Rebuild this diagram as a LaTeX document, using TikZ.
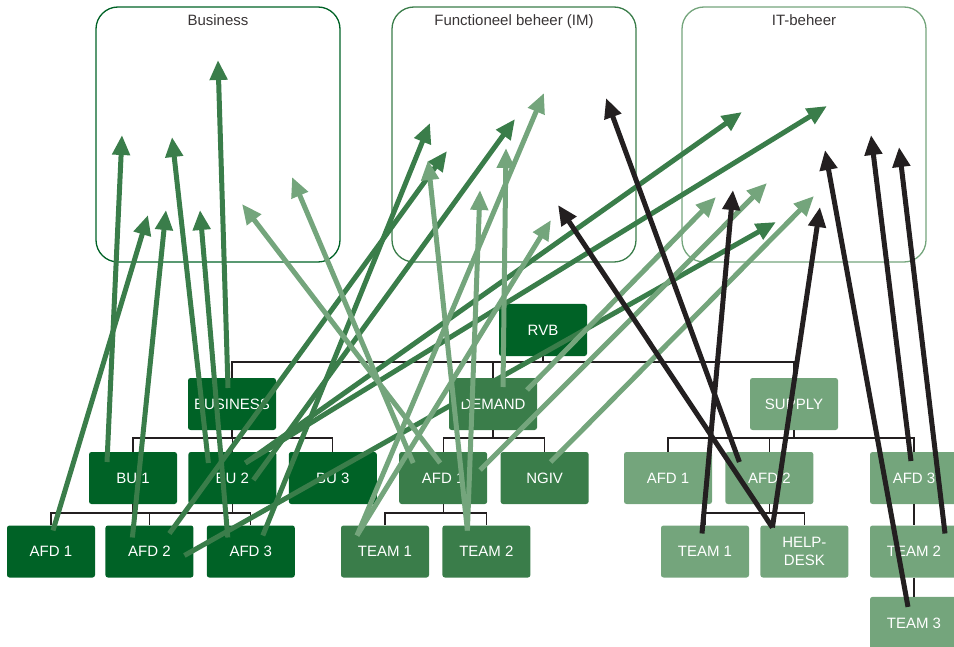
\documentclass[tikz,border=0pt]{standalone}
\usepackage{fontspec}
\setmainfont{Liberation Sans}
\usetikzlibrary{positioning,arrows.meta}
\definecolor{deep}{HTML}{006226}
\definecolor{mid}{HTML}{3A7D4A}
\definecolor{pale}{HTML}{74A57C}
\definecolor{ink}{HTML}{231F20}

\begin{document}
\begin{tikzpicture}[
      x=1pt, y=-1pt,
      font=\fontsize{15}{18}\selectfont,
      box/.style={rounded corners=2.5pt, inner sep=0pt,
                  minimum width=88pt, minimum height=52pt,
                  align=center, text=white},
      top/.style={box, fill=deep},
      dem/.style={box, fill=mid},
      sup/.style={box, fill=pale},
      zone/.style={line width=1.3pt, rounded corners=22pt,
                   minimum width=244pt, minimum height=255pt},
      zonetitle/.style={inner sep=0pt, text=ink!90},
      tree/.style={ink, line width=1.3pt},
      link/.style={line width=5pt, -{Triangle[length=20pt,width=17pt]}},
      biz/.style={link, mid},
      im/.style={link, pale},
      it/.style={link, ink}
    ]
    \useasboundingbox (0,0) rectangle (954,647);
    \clip (0,0) rectangle (954,647);

    % the three management zones
    \node[zone, draw=deep] (fbiz) at (218,134.5) {};
    \node[zone, draw=mid]  (fim)  at (514,134.5) {};
    \node[zone, draw=pale] (fit)  at (804,134.5) {};
    \node[zonetitle, below=8pt of fbiz.north] {Business};
    \node[zonetitle, below=8pt of fim.north]  {Functioneel beheer (IM)};
    \node[zonetitle, below=8pt of fit.north]  {IT-beheer};

    % org chart
    \node[top] (rvb) at (543,330) {RVB};
    \node[top] (business) at (232,404) {BUSINESS};
    \node[dem] (demand)   at (493,404) {DEMAND};
    \node[sup] (supply)   at (794,404) {SUPPLY};

    \node[top] (bu1) at (133,478) {BU 1};
    \node[top, right=11pt of bu1] (bu2) {BU 2};
    \node[top, right=12pt of bu2] (bu3) {BU 3};
    \node[dem, right=22pt of bu3] (afdm) {AFD 1};
    \node[dem, right=13pt of afdm] (ngiv) {NGIV};
    \node[sup] (afdsa) at (668,478) {AFD 1};
    \node[sup, right=13pt of afdsa] (afdsb) {AFD 2};
    \node[sup] (afdsc) at (914,478) {AFD 3};

    \node[top] (afda) at (51,551.5) {AFD 1};
    \node[top, right=10pt of afda] (afdb) {AFD 2};
    \node[top, right=13pt of afdb] (afdc) {AFD 3};
    \node[dem] (teama) at (385,551.5) {TEAM 1};
    \node[dem, right=13pt of teama] (teamb) {TEAM 2};
    \node[sup] (teamc) at (705,551.5) {TEAM 1};
    \node[sup, right=11pt of teamc] (help) {HELP-\\DESK};
    \node[sup] (teamd) at (914,551.5) {TEAM 2};
    \node[sup, below=19pt of teamd] (teame) {TEAM 3};

    \coordinate (busa) at (0,362);
    \coordinate (busb) at (0,438);
    \coordinate (busc) at (0,513);

    \draw[tree] (rvb.south) -- (rvb |- busa)
      (business.north) |- (busa -| supply) -- (supply.north)
      (demand.north) -- (demand |- busa);
    \draw[tree] (business.south) -- (business |- busb)
      (bu1.north) |- (busb -| bu3) -- (bu3.north)
      (bu2.north) -- (bu2 |- busb);
    \draw[tree] (demand.south) -- (demand |- busb)
      (afdm.north) |- (busb -| ngiv) -- (ngiv.north);
    \draw[tree] (supply.south) -- (supply |- busb)
      (afdsa.north) |- (busb -| afdsc) -- (afdsc.north)
      (afdsb.north) -- (afdsb |- busb);
    \draw[tree] (bu1.south) -- (bu1 |- busc)
      (bu2.south) -- (bu2 |- busc)
      (afda.north) |- (busc -| afdc) -- (afdc.north)
      (afdb.north) -- (afdb |- busc);
    \draw[tree] (afdm.south) -- (afdm |- busc)
      (teama.north) |- (busc -| teamb) -- (teamb.north);
    \draw[tree] (afdsb.south) -- (afdsb |- busc)
      (teamc.north) |- (busc -| help) -- (help.north);
    \draw[tree] (afdsc.south) -- (teamd.north)
      (teamd.south) -- (teame.north);

    % arrow tips inside the zones
    \coordinate (biz1) at (122,135);
    \coordinate (biz2) at (148,215);
    \coordinate (biz3) at (166,210);
    \coordinate (biz4) at (172,137);
    \coordinate (biz5) at (200,210);
    \coordinate (biz6) at (218,60);
    \coordinate (biz7) at (242,204);
    \coordinate (biz8) at (292,177);
    \coordinate (im1)  at (430,123);
    \coordinate (im2)  at (447,151);
    \coordinate (im3)  at (515,119);
    \coordinate (im4)  at (428,160);
    \coordinate (im5)  at (480,190);
    \coordinate (im6)  at (506,148);
    \coordinate (im7)  at (544,93);
    \coordinate (im8)  at (551,220);
    \coordinate (im9)  at (558,205);
    \coordinate (im10) at (606,98);
    \coordinate (it1)  at (742,112);
    \coordinate (it2)  at (827,106);
    \coordinate (it3)  at (776,222);
    \coordinate (it4)  at (716,197);
    \coordinate (it5)  at (767,183);
    \coordinate (it6)  at (814,196);
    \coordinate (it7)  at (733,190);
    \coordinate (it8)  at (820,207);
    \coordinate (it9)  at (825,150);
    \coordinate (it10) at (871,135);
    \coordinate (it11) at (899,147);

    % business side
    \draw[biz] ([shift={(-26,-16)}]bu1.center) -- (biz1);
    \draw[biz] ([shift={(2,-21)}]afda.center) -- (biz2);
    \draw[biz] ([shift={(-17,-14)}]afdb.center) -- (biz3);
    \draw[biz] ([shift={(-24,-15)}]bu2.center) -- (biz4);
    \draw[biz] ([shift={(-23,-14)}]afdc.center) -- (biz5);
    \draw[biz] ([shift={(-4,-16)}]business.center) -- (biz6);
    \draw[biz] ([shift={(12,-16)}]afdc.center) -- (im1);
    \draw[biz] ([shift={(20,-18)}]afdb.center) -- (im2);
    \draw[biz] ([shift={(21,2)}]bu2.center) -- (im3);
    \draw[biz] ([shift={(13,-15)}]bu2.center) -- (it1);
    \draw[biz] ([shift={(13,-15)}]bu2.center) -- (it2);
    \draw[biz] ([shift={(35,4)}]afdb.center) -- (it3);

    % demand side
    \draw[im] ([shift={(-3,-15)}]afdm.center) -- (biz7);
    \draw[im] ([shift={(-30,-15)}]afdm.center) -- (biz8);
    \draw[im] ([shift={(-19,-21)}]teamb.center) -- (im4);
    \draw[im] ([shift={(-19,-21)}]teamb.center) -- (im5);
    \draw[im] ([shift={(10,-17)}]demand.center) -- (im6);
    \draw[im] ([shift={(-28,-16)}]teama.center) -- (im7);
    \draw[im] ([shift={(-28,-16)}]teama.center) -- (im8);
    \draw[im] ([shift={(34,-14)}]demand.center) -- (it4);
    \draw[im] ([shift={(37,-8)}]afdm.center) -- (it5);
    \draw[im] ([shift={(6,-16)}]ngiv.center) -- (it6);

    % supply side
    \draw[it] ([shift={(-32,-24)}]help.center) -- (im9);
    \draw[it] ([shift={(-30,-16)}]afdsb.center) -- (im10);
    \draw[it] ([shift={(-3,-18)}]teamc.center) -- (it7);
    \draw[it] ([shift={(-32,-24)}]help.center) -- (it8);
    \draw[it] ([shift={(-6,-16)}]teame.center) -- (it9);
    \draw[it] ([shift={(-3,-17)}]afdsc.center) -- (it10);
    \draw[it] ([shift={(31,-18)}]teamd.center) -- (it11);

  \end{tikzpicture}
\end{document}
